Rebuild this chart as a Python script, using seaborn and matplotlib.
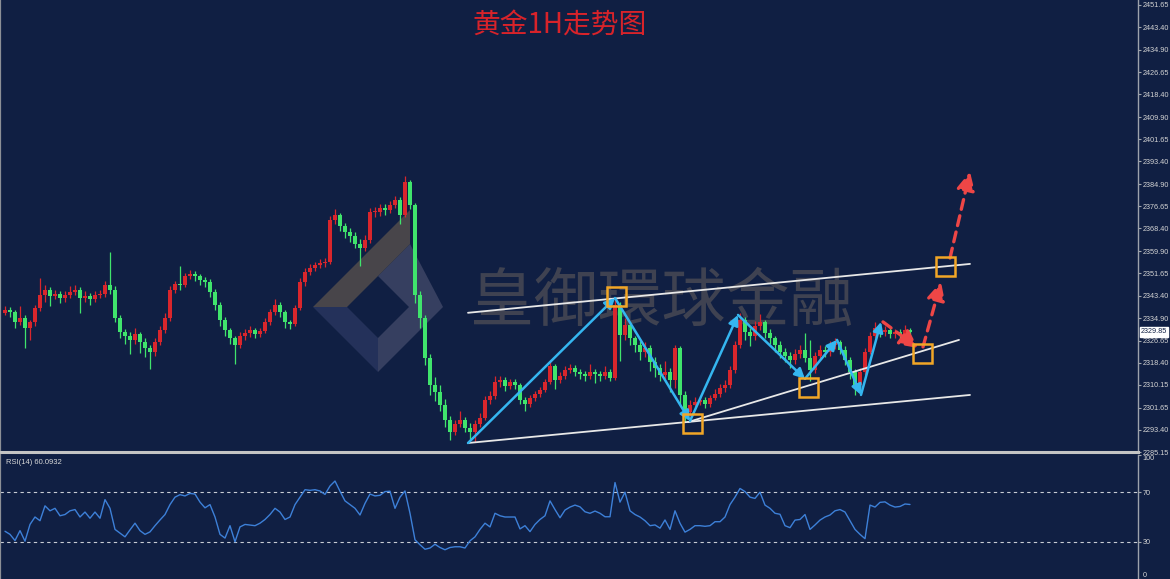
import numpy as np
import pandas as pd
import matplotlib
matplotlib.use("Agg")
import matplotlib.pyplot as plt
import matplotlib.transforms as mtransforms
from matplotlib.patches import Polygon, Rectangle
import seaborn as sns

# ---------------- data ----------------
first_open = 2337.0
closes = [
    2338.0, 2337.3, 2333.6, 2335.1, 2331.3, 2333.6, 2338.8, 2343.7, 2345.5, 2343.3,
    2344.0, 2342.5, 2343.7, 2344.8, 2345.5, 2342.5, 2343.3, 2342.2, 2343.7, 2344.0,
    2347.4, 2345.5, 2335.1, 2329.9, 2328.4, 2326.9, 2329.1, 2326.1, 2323.9, 2322.4,
    2326.1, 2330.6, 2335.1, 2345.5, 2347.7, 2347.4, 2350.7, 2351.5, 2350.7, 2349.2,
    2348.5, 2344.8, 2339.9, 2334.3, 2330.6, 2327.6, 2325.0, 2328.4, 2329.5, 2330.6,
    2329.1, 2330.2, 2333.6, 2337.3, 2339.9, 2337.3, 2333.6, 2332.8, 2338.8, 2348.5,
    2352.2, 2353.7, 2354.8, 2355.6, 2355.9, 2371.6, 2373.4, 2369.3, 2367.1, 2365.6,
    2362.7, 2361.2, 2364.1, 2374.5, 2374.5, 2376.0, 2375.3, 2377.1, 2379.0, 2373.4,
    2385.7, 2377.1, 2343.7, 2335.1, 2320.2, 2310.1, 2307.5, 2302.7, 2297.1, 2292.6,
    2295.6, 2297.1, 2294.1, 2292.6, 2295.6, 2297.8, 2304.5, 2306.0, 2311.2, 2312.0,
    2309.7, 2311.2, 2310.1, 2304.5, 2303.1, 2305.3, 2306.8, 2308.3, 2311.2, 2317.2,
    2312.0, 2313.5, 2315.7, 2316.5, 2315.0, 2314.2, 2313.5, 2315.0, 2314.2, 2313.5,
    2315.0, 2312.7, 2339.9, 2328.8, 2332.5, 2327.6, 2325.0, 2322.4, 2323.9, 2318.7,
    2316.5, 2313.9, 2315.0, 2312.0, 2323.9, 2306.4, 2300.1, 2302.7, 2303.8, 2304.5,
    2303.1, 2305.3, 2306.8, 2309.0, 2310.1, 2315.7, 2325.0, 2334.3, 2329.9, 2328.4,
    2332.1, 2333.6, 2329.5, 2327.6, 2325.0, 2322.4, 2320.9, 2319.4, 2321.7, 2323.2,
    2320.2, 2315.7, 2320.9, 2323.2, 2322.4, 2325.0, 2326.1, 2323.2, 2319.4, 2315.0,
    2310.1, 2315.0, 2322.4, 2328.4, 2331.3, 2329.9, 2330.6, 2329.1, 2329.9, 2329.1,
    2330.6, 2329.85]
highs = [
    2339.5, 2339.0, 2338.0, 2339.5, 2336.0, 2334.5, 2340.0, 2350.0, 2347.5, 2346.5,
    2345.5, 2345.0, 2345.0, 2347.0, 2347.5, 2346.5, 2345.0, 2344.5, 2345.0, 2345.5,
    2349.0, 2359.5, 2347.0, 2336.0, 2331.0, 2330.0, 2331.5, 2330.0, 2327.5, 2325.0,
    2327.5, 2332.0, 2337.0, 2347.0, 2349.0, 2354.5, 2352.0, 2353.0, 2352.5, 2351.5,
    2350.5, 2349.5, 2346.0, 2341.0, 2335.5, 2331.5, 2328.5, 2330.0, 2331.0, 2332.0,
    2331.5, 2331.5, 2335.0, 2338.5, 2342.0, 2341.0, 2338.0, 2334.5, 2340.0, 2350.0,
    2353.5, 2355.0, 2356.0, 2357.0, 2357.5, 2373.0, 2375.5, 2374.0, 2370.5, 2368.5,
    2367.0, 2364.5, 2366.0, 2376.0, 2376.5, 2377.5, 2377.5, 2378.5, 2380.5, 2380.0,
    2388.0, 2386.5, 2378.0, 2345.0, 2336.0, 2321.5, 2313.0, 2310.0, 2305.0, 2298.5,
    2297.0, 2300.5, 2298.0, 2296.0, 2297.0, 2299.5, 2306.0, 2308.0, 2313.5, 2313.5,
    2313.0, 2312.5, 2312.5, 2311.0, 2305.5, 2306.5, 2308.0, 2309.5, 2312.5, 2319.0,
    2318.0, 2315.0, 2317.0, 2318.0, 2317.5, 2316.0, 2315.5, 2318.0, 2316.0, 2315.5,
    2317.0, 2316.0, 2342.5, 2341.0, 2335.0, 2333.5, 2328.5, 2326.5, 2326.0, 2325.0,
    2320.5, 2318.0, 2319.0, 2316.5, 2325.0, 2324.5, 2308.0, 2304.5, 2305.5, 2306.0,
    2305.5, 2306.5, 2308.5, 2310.5, 2312.0, 2317.0, 2326.5, 2337.0, 2335.5, 2331.5,
    2334.0, 2336.5, 2334.5, 2331.0, 2328.5, 2326.5, 2324.0, 2322.5, 2323.5, 2325.0,
    2329.5, 2327.0, 2322.5, 2325.0, 2324.5, 2326.5, 2327.5, 2327.0, 2324.5, 2320.5,
    2316.0, 2316.5, 2324.0, 2330.0, 2333.5, 2332.5, 2332.0, 2331.5, 2331.0, 2331.0,
    2332.5, 2331.5]
lows = [
    2336.0, 2335.5, 2331.5, 2332.5, 2324.0, 2327.0, 2332.0, 2337.5, 2341.0, 2339.5,
    2342.0, 2340.5, 2341.0, 2342.5, 2343.5, 2337.0, 2341.0, 2340.0, 2341.0, 2342.5,
    2343.0, 2344.0, 2333.5, 2327.5, 2325.5, 2321.5, 2325.5, 2322.0, 2320.5, 2316.0,
    2321.0, 2325.0, 2329.5, 2334.0, 2344.5, 2345.5, 2346.5, 2349.5, 2349.0, 2347.5,
    2346.5, 2343.0, 2338.0, 2332.0, 2328.5, 2325.5, 2318.0, 2324.0, 2327.0, 2328.0,
    2327.5, 2328.0, 2329.5, 2332.5, 2336.0, 2335.5, 2331.5, 2331.0, 2332.0, 2338.0,
    2347.0, 2351.0, 2352.5, 2353.5, 2354.0, 2355.0, 2370.0, 2367.5, 2365.0, 2363.5,
    2361.0, 2354.5, 2360.0, 2363.0, 2372.5, 2373.0, 2373.5, 2374.0, 2376.0, 2370.0,
    2372.5, 2375.5, 2340.5, 2331.5, 2317.5, 2306.5, 2304.0, 2300.5, 2294.5, 2289.5,
    2291.5, 2294.5, 2292.5, 2290.0, 2289.0, 2294.5, 2297.0, 2303.0, 2305.0, 2309.5,
    2308.0, 2308.5, 2308.5, 2303.0, 2300.5, 2302.0, 2304.0, 2305.5, 2307.5, 2310.5,
    2308.5, 2311.0, 2312.5, 2314.5, 2313.5, 2312.5, 2311.5, 2312.5, 2311.0, 2311.5,
    2312.5, 2311.5, 2312.0, 2319.0, 2327.0, 2325.0, 2322.5, 2319.5, 2320.5, 2315.5,
    2313.0, 2311.5, 2312.5, 2307.5, 2309.0, 2302.5, 2296.5, 2298.5, 2301.5, 2302.5,
    2301.5, 2302.0, 2304.5, 2305.5, 2307.5, 2309.0, 2314.5, 2324.0, 2327.0, 2324.5,
    2327.0, 2330.5, 2327.5, 2325.5, 2322.5, 2320.0, 2318.5, 2316.5, 2318.0, 2320.0,
    2318.5, 2311.5, 2314.5, 2319.5, 2320.5, 2321.0, 2323.5, 2321.5, 2317.5, 2312.5,
    2306.5, 2309.0, 2314.0, 2321.5, 2327.5, 2328.0, 2328.5, 2327.5, 2327.5, 2327.5,
    2328.5, 2328.5]
rsi = [
    38.5, 36, 31, 39, 30.5, 44, 50, 47, 59, 55,
    57, 51, 52, 55, 56, 50, 54, 49, 54, 49,
    64, 57, 40, 37, 34, 39.6, 45, 39, 36, 38,
    43, 47.6, 52, 60, 66, 68, 67, 69, 68.5, 62,
    57.4, 60, 50, 36, 33, 43, 30, 42, 44, 43.5,
    43, 45, 48, 52, 57, 54, 48, 50, 60, 66,
    72, 71.5, 72, 71, 68.2, 75, 79, 70.8, 63, 60,
    57, 51.6, 61, 68.5, 67, 67.5, 70.5, 70.8, 57, 66,
    71, 53, 31.6, 27.6, 24, 25, 28, 25.4, 23.6, 25.4,
    26, 26, 25, 30.8, 34, 40, 45, 42, 53, 51,
    50, 50, 50, 40.4, 43, 38.2, 44, 48, 51, 63,
    56, 49.4, 55.6, 58, 59.6, 58.2, 54.2, 53, 54.8, 53,
    50.2, 50.2, 77.8, 62, 70, 55, 52, 50, 47, 43,
    43.6, 41, 47.6, 40, 55, 45, 37.8, 40, 43, 43,
    42.5, 43, 46.2, 46.2, 50, 60, 66, 73, 70.5, 66,
    65, 70, 59.6, 57, 53, 52.2, 43, 41.4, 47.5, 48,
    52, 40, 43.6, 47.5, 50, 51.6, 55, 56, 54, 47,
    40, 36, 32.5, 59.6, 58, 61.8, 62.2, 59.6, 58, 58.5,
    60.5, 60.09]

price_ticks = [2451.65, 2443.40, 2434.90, 2426.65, 2418.40, 2409.90, 2401.65,
               2393.40, 2384.90, 2376.65, 2368.40, 2359.90, 2351.65, 2343.40,
               2334.90, 2326.65, 2318.40, 2310.15, 2301.65, 2293.40, 2285.15]
price_tick_labels = ["%.2f" % v for v in price_ticks]
rsi_ticks = [100, 70, 30, 0]
rsi_tick_labels = ["100", "70", "30", "0"]
last_price = 2329.85
rsi_label = "RSI(14) 60.0932"
title = "黄金1H走势图"
watermark = "皇御環球金融"

# analysis markup (bar index, price)
channel_upper = ([92.6, 193.0], [2337.0, 2355.2])
channel_lower = ([92.6, 193.0], [2288.5, 2306.4])
support_line = ([136.6, 190.8], [2296.3, 2326.9])
wave_x = [92.6, 122.0, 137.0, 146.6, 160.0, 166.4, 171.2, 175.2]
wave_p = [2288.5, 2342.5, 2296.7, 2336.2, 2312.4, 2326.9, 2306.4, 2333.6]
forecast = [((175.6, 2333.6), (182.6, 2323.9)),
            ((183.6, 2324.3), (187.2, 2348.5)),
            ((189.0, 2357.4), (193.0, 2389.5))]
box_x = [122.2, 137.4, 160.6, 183.4, 188.0]
box_p = [2342.9, 2295.6, 2309.0, 2322.0, 2354.1]

# ---------------- style ----------------
BG = "#101f43"
RED = "#d9262c"
GREEN = "#40e46c"
sns.set_theme(style="dark", rc={"axes.facecolor": BG, "figure.facecolor": BG})
plt.rcParams["font.family"] = ["Noto Sans CJK SC", "DejaVu Sans"]

W, H = 1170, 579
fig = plt.figure(figsize=(W / 100, H / 100), dpi=100, facecolor=BG)
px = mtransforms.Affine2D().scale(1 / W, -1 / H).translate(0, 1) + fig.transFigure

ax = fig.add_axes([0, 127 / H, 1138 / W, 452 / H])
ax_r = fig.add_axes([0, 0, 1138 / W, 124 / H])

n = len(closes)
opens = [first_open] + closes[:-1]
df = pd.DataFrame({"idx": np.arange(n), "open": opens, "close": closes,
                   "high": highs, "low": lows, "rsi": rsi})
up = df["close"] >= df["open"]
colors = np.where(up, RED, GREEN)

# watermark logo + text (behind the candles)
logo_upper = [(313, 307), (410, 210), (410, 244), (347, 307)]
logo_lower = [(313, 307), (378, 372), (378, 338), (347, 307)]
logo_right = [(378, 276), (410, 244), (443, 307), (378, 372), (378, 338), (409, 307)]
ax.add_patch(Polygon(logo_lower, closed=True, transform=px, facecolor="#24315a",
                     edgecolor="none", zorder=1))
ax.add_patch(Polygon(logo_right, closed=True, transform=px, facecolor="#363f60",
                     edgecolor="none", zorder=1))
ax.add_patch(Polygon(logo_upper, closed=True, transform=px, facecolor="#48454a",
                     edgecolor="none", zorder=1.1))
ax.text(662, 303, watermark, transform=px, fontsize=46, color="#6e6660", alpha=0.5,
        ha="center", va="center", family=["Noto Sans CJK TC", "DejaVu Sans"], zorder=1.2)

# candles
ax.vlines(df["idx"], df["low"], df["high"], colors=colors, lw=0.9, zorder=3)
body = (df["close"] - df["open"]).abs().clip(lower=0.3)
ax.bar(df["idx"], body, bottom=np.minimum(df["open"], df["close"]), width=0.62,
       color=colors, linewidth=0, zorder=4)

# channel lines
for xs, ys in (channel_upper, channel_lower, support_line):
    ax.plot(xs, ys, color="#e8e8e8", lw=1.3, zorder=5, solid_capstyle="round")

# blue wave arrows
for k in range(len(wave_x) - 1):
    ax.annotate("", xy=(wave_x[k + 1], wave_p[k + 1]), xytext=(wave_x[k], wave_p[k]),
                arrowprops=dict(arrowstyle="-|>,head_length=0.6,head_width=0.3",
                                color="#35b6f0", lw=1.8, shrinkA=0, shrinkB=0,
                                mutation_scale=10), zorder=6)

# red dashed forecast arrows
for (x0, p0), (x1, p1) in forecast:
    ax.annotate("", xy=(x1, p1), xytext=(x0, p0),
                arrowprops=dict(arrowstyle="-|>,head_length=0.9,head_width=0.45",
                                color="#ee4646", lw=2.4, linestyle=(0, (3, 2)),
                                shrinkA=0, shrinkB=0, mutation_scale=12), zorder=6)

# orange boxes
for bx, bp in zip(box_x, box_p):
    ax.add_patch(Rectangle((bx - 1.9, bp - 3.55), 3.8, 7.1, fill=False,
                           edgecolor="#f2a626", lw=1.8, zorder=7))

# RSI
sns.lineplot(data=df, x="idx", y="rsi", ax=ax_r, color="#3d80d8", lw=1.0, legend=False)
for lvl in (70, 30):
    ax_r.axhline(lvl, color="#c8ccd4", lw=0.8, ls=(0, (3, 3)), zorder=1)
ax_r.text(0.005, 0.965, rsi_label, transform=ax_r.transAxes, fontsize=5.5,
          color="#d8d8d8", ha="left", va="top", family="Liberation Sans")

# axes cosmetics
ax.set_xlim(-1, 226.6)
ax_r.set_xlim(-1, 226.6)
ax.set_ylim(2285.15, 2453.5)
ax_r.set_ylim(0, 100)
for a in (ax, ax_r):
    a.set_facecolor(BG)
    a.grid(False)
    a.set_xticks([])
    a.set_xlabel("")
    a.set_ylabel("")
    a.yaxis.tick_right()
    a.tick_params(axis="y", direction="out", length=2.5, width=0.8, color="#a0a4ac",
                  labelsize=5.2, labelcolor="#d4d4d4", pad=1.0)
    a.spines["top"].set_visible(False)
    a.spines["left"].set_color("#8c8f96")
    a.spines["left"].set_linewidth(1.6)
    a.spines["right"].set_color("#9ca2ac")
    a.spines["right"].set_linewidth(1.0)
ax.spines["bottom"].set_color("#c4c4c4")
ax.spines["bottom"].set_linewidth(2.2)
ax_r.spines["bottom"].set_visible(False)

ax.set_yticks(price_ticks)
ax.set_yticklabels(price_tick_labels)
ax_r.set_yticks(rsi_ticks)
ax_r.set_yticklabels(rsi_tick_labels)
for lab in ax.get_yticklabels() + ax_r.get_yticklabels():
    lab.set_fontfamily("Liberation Sans")
rl = ax_r.get_yticklabels()
rl[0].set_va("top")
rl[-1].set_va("bottom")

# last price tag
ax.text(1.0026, last_price, "%.2f" % last_price,
        transform=mtransforms.blended_transform_factory(ax.transAxes, ax.transData),
        fontsize=5.2, color=BG, ha="left", va="center", family="Liberation Sans",
        bbox=dict(facecolor="white", edgecolor="white", pad=0.9), clip_on=False, zorder=10)

# title
fig.text(560 / W, 1 - 26 / H, title, fontsize=20, color="#d8232a", ha="center",
         va="center", family=["Noto Sans CJK SC", "DejaVu Sans"])

fig.savefig("out.png", dpi=100, facecolor=BG)
